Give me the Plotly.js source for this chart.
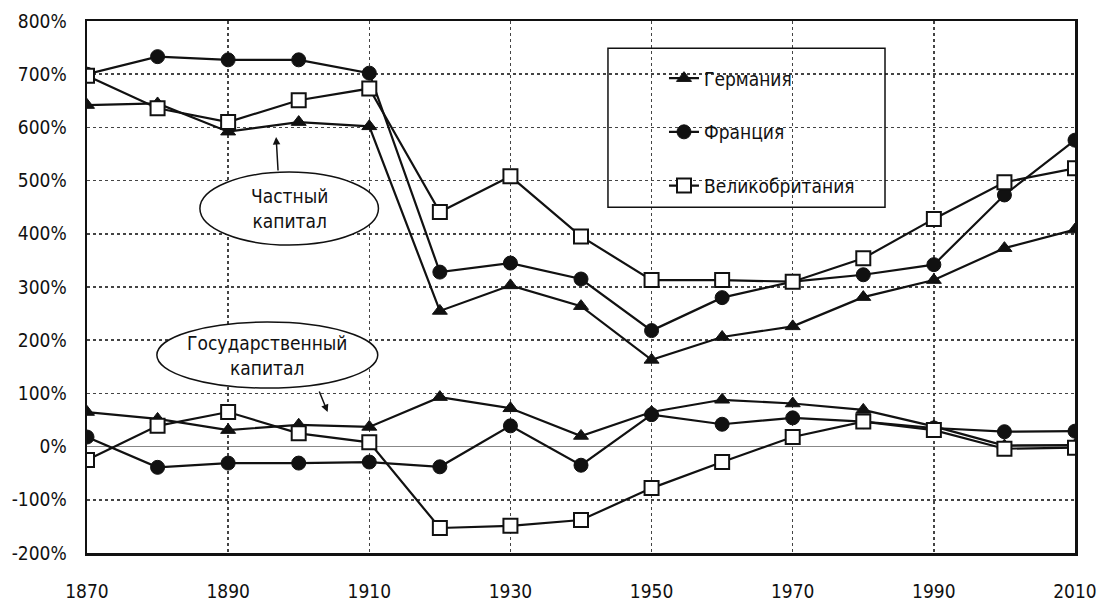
<!DOCTYPE html>
<html>
<head>
<meta charset="utf-8">
<script src="https://cdn.plot.ly/plotly-3.0.1.min.js"></script>
<style>html,body{margin:0;padding:0;background:#fff;}#chart{width:1102px;height:607px;}</style>
</head>
<body>
<div id="chart"></div>
<script>
const years = [1870, 1880, 1890, 1900, 1910, 1920, 1930, 1940, 1950, 1960, 1970, 1980, 1990, 2000, 2010];
const germanyPrivate = [642, 645, 592, 610, 602, 255, 303, 264, 163, 206, 226, 281, 313, 373, 408];
const francePrivate  = [700, 733, 727, 727, 702, 328, 345, 315, 218, 280, 310, 323, 342, 473, 576];
const ukPrivate      = [697, 636, 610, 651, 673, 441, 508, 395, 313, 313, 310, 354, 428, 497, 523];
const germanyPublic  = [65, 52, 31, 41, 37, 93, 72, 20, 65, 88, 81, 69, 38, 2, 3];
const francePublic   = [18, -39, -31, -31, -29, -38, 39, -35, 60, 42, 54, 47, 35, 28, 29];
const ukPublic       = [-25, 39, 65, 25, 8, -153, -149, -138, -78, -29, 18, 47, 31, -4, -2];
const seriesNames = ['Германия', 'Франция', 'Великобритания'];
const xTickVals = [1870, 1890, 1910, 1930, 1950, 1970, 1990, 2010];
const yTickVals = [-200, -100, 0, 100, 200, 300, 400, 500, 600, 700, 800];
const yTickText = ['-200%', '-100%', '0%', '100%', '200%', '300%', '400%', '500%', '600%', '700%', '800%'];
const noteLabels = ['Частный<br>капитал', 'Государственный<br>капитал'];

const FONT = '"DejaVu Sans Condensed", "Liberation Sans Narrow", sans-serif';

const markers = [
  {symbol: 'triangle-up', size: 13, color: '#111', line: {color: '#111', width: 1}},
  {symbol: 'circle', size: 14, color: '#111', line: {color: '#111', width: 1}},
  {symbol: 'square', size: 14, color: '#fff', line: {color: '#111', width: 2}}
];
const priv = [germanyPrivate, francePrivate, ukPrivate];
const pub = [germanyPublic, francePublic, ukPublic];

const traces = [];
for (let i = 0; i < 3; i++) {
  traces.push({
    x: years, y: priv[i], type: 'scatter', mode: 'lines+markers',
    name: seriesNames[i], legendgroup: 'g' + i, showlegend: true,
    line: {color: '#111', width: 2.2}, marker: markers[i]
  });
}
for (let i = 0; i < 3; i++) {
  traces.push({
    x: years, y: pub[i], type: 'scatter', mode: 'lines+markers',
    name: seriesNames[i], legendgroup: 'g' + i, showlegend: false,
    line: {color: '#111', width: 2.2}, marker: markers[i]
  });
}

const layout = {
  width: 1102, height: 607,
  margin: {l: 87, r: 27, t: 21, b: 54},
  paper_bgcolor: '#fff', plot_bgcolor: '#fff',
  font: {family: FONT, color: '#111', size: 18},
  showlegend: true,
  legend: {
    x: 0.584, y: 0.928, xanchor: 'left', yanchor: 'top',
    bgcolor: 'rgba(0,0,0,0)', borderwidth: 0,
    tracegroupgap: 26, itemwidth: 30,
    font: {family: FONT, size: 19, color: '#111'}
  },
  xaxis: {
    range: [1870, 2010], tickmode: 'array', tickvals: xTickVals,
    showgrid: true, gridcolor: '#444', gridwidth: 1.5, griddash: 'dot',
    showline: true, mirror: true, linecolor: '#111', linewidth: 2.5,
    zeroline: false, ticks: '', ticklabelstandoff: 20,
    tickfont: {family: FONT, size: 19, color: '#111'}
  },
  yaxis: {
    range: [-200, 800], tickmode: 'array', tickvals: yTickVals, ticktext: yTickText,
    showgrid: true, gridcolor: '#444', gridwidth: 1.5, griddash: 'dot',
    showline: true, mirror: true, linecolor: '#111', linewidth: 2.5,
    zeroline: true, zerolinecolor: '#888', zerolinewidth: 1.5,
    ticks: '', ticklabelstandoff: 14,
    tickfont: {family: FONT, size: 19, color: '#111'}
  },
  shapes: [
    {type: 'rect', xref: 'paper', yref: 'paper', x0: 0.5273, x1: 0.8077, y0: 0.650, y1: 0.949,
     line: {color: '#111', width: 1.5}, fillcolor: 'rgba(0,0,0,0)', layer: 'above'},
    {type: 'circle', xref: 'x', yref: 'y', x0: 1886.0, x1: 1911.3, y0: 379, y1: 516,
     line: {color: '#111', width: 1.5}, fillcolor: '#fff', layer: 'above'},
    {type: 'circle', xref: 'x', yref: 'y', x0: 1879.9, x1: 1911.2, y0: 110, y1: 234,
     line: {color: '#111', width: 1.5}, fillcolor: '#fff', layer: 'above'}
  ],
  annotations: [
    {x: 1898.7, y: 448, xref: 'x', yref: 'y', text: noteLabels[0], showarrow: false,
     font: {family: FONT, size: 19, color: '#111'}, align: 'center'},
    {x: 1895.5, y: 172, xref: 'x', yref: 'y', text: noteLabels[1], showarrow: false,
     font: {family: FONT, size: 19, color: '#111'}, align: 'center'},
    {x: 1896.8, y: 582, xref: 'x', yref: 'y', text: '', showarrow: true,
     ax: 2, ay: 35, arrowhead: 2, arrowsize: 1, arrowwidth: 1.5, arrowcolor: '#111'},
    {x: 1904.1, y: 65, xref: 'x', yref: 'y', text: '', showarrow: true,
     ax: -9, ay: -22, arrowhead: 2, arrowsize: 1, arrowwidth: 1.5, arrowcolor: '#111'}
  ]
};

Plotly.newPlot('chart', traces, layout, {displayModeBar: false, staticPlot: true});
</script>
</body>
</html>
